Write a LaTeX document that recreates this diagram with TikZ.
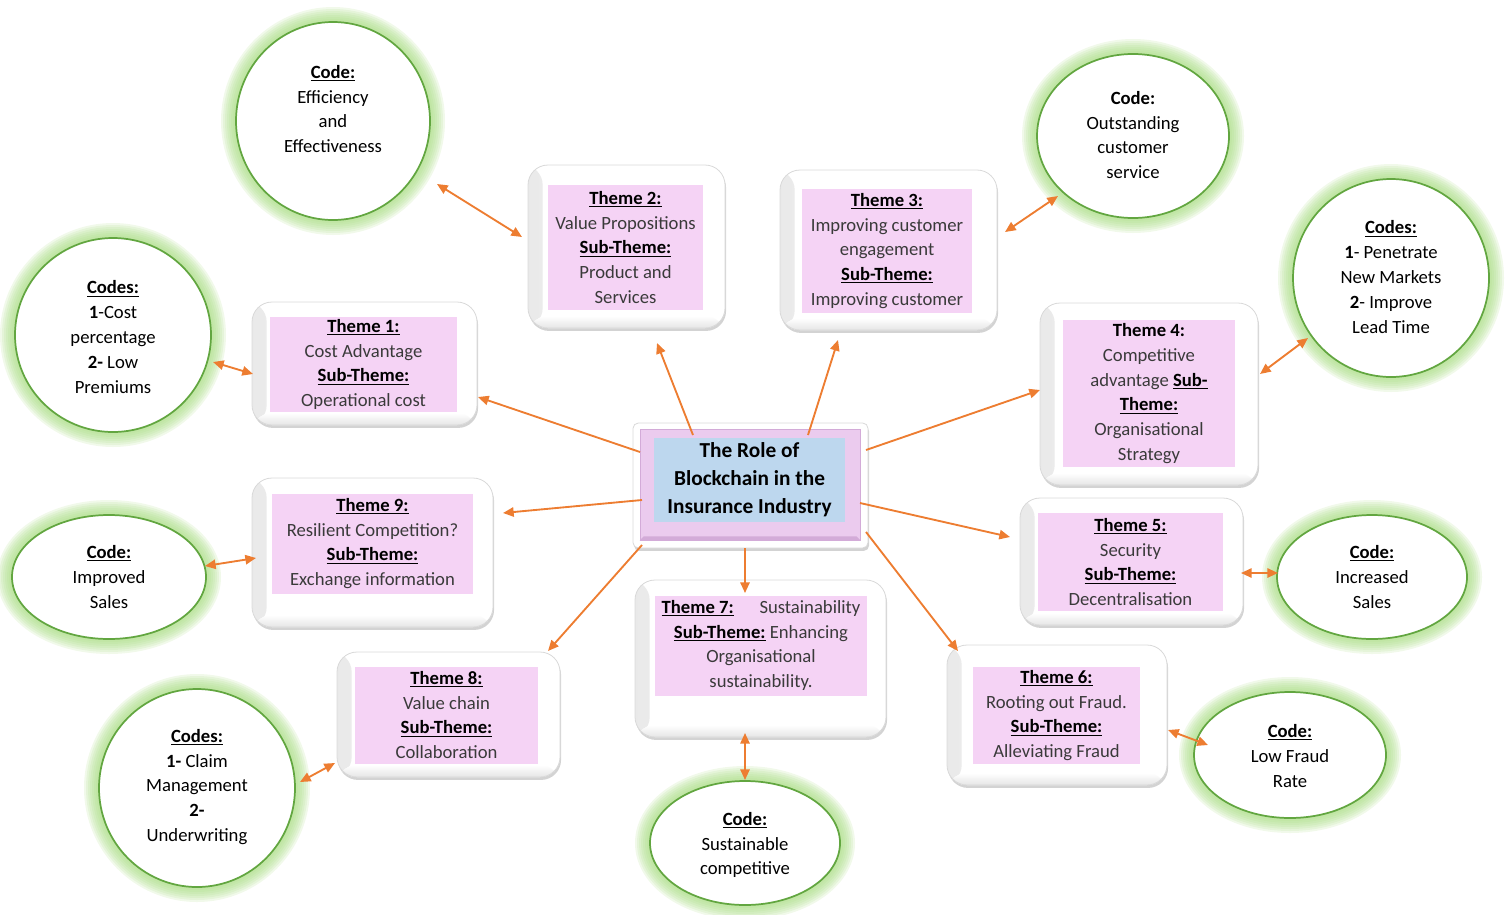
\documentclass[tikz,border=0pt]{standalone}
\usepackage{fontspec}
\setmainfont{Carlito}
\usetikzlibrary{shadows,arrows.meta,calc,shapes.geometric}
\definecolor{arr}{HTML}{ED7D31}
\definecolor{pinkf}{HTML}{F5D3F5}
\definecolor{ctrpink}{HTML}{EBCBEE}
\definecolor{ctrpinkdk}{HTML}{D3ABD8}
\definecolor{ctrblue}{HTML}{BDD7EE}
\definecolor{gline}{HTML}{62A640}
\definecolor{gglow}{HTML}{A6DB7F}
\definecolor{bodytxt}{HTML}{3A3A3A}
\tikzset{
 sz/.style 2 args={minimum width={#1*0.75pt},minimum height={#2*0.75pt}},
 plainbox/.style={draw=gray!30, line width=0.6pt, fill=white,
   drop shadow={shadow xshift=0.8pt, shadow yshift=-2.2pt, opacity=0.35}, inner sep=0pt},
 outerbox/.style={plainbox, rounded corners=15pt,
   path picture={
     \fill[left color=gray!17, right color=white] (path picture bounding box.south west) rectangle ([xshift=11pt]path picture bounding box.north west);
     \fill[top color=white, bottom color=gray!20] ([yshift=9pt]path picture bounding box.south west) rectangle (path picture bounding box.south east);
   }},
 pinkbox/.style={fill=pinkf, inner sep=0pt, align=center, font=\fontsize{14}{18.6}\selectfont, text=bodytxt},
 codeellipse/.style={ellipse, draw=gline, line width=1.3pt, fill=white, inner sep=0pt},
 codetxt/.style={align=center, font=\fontsize{14}{18.6}\selectfont, text=black, inner sep=0pt},
 arrowone/.style={draw=arr, line width=1.4pt, -{Triangle[length=8pt,width=7pt]}},
 arrowtwo/.style={draw=arr, line width=1.4pt, {Triangle[length=8pt,width=7pt]}-{Triangle[length=8pt,width=7pt]}},
}
\newcommand\hd[1]{\textcolor{black}{\textbf{\underline{#1}}}}
\newcommand\codeell[5]{%
 \coordinate (#1c) at (#2,#3);
 \foreach \lw in {30,26,22,18,14,10,6}{\draw[gglow, opacity=0.16, line width=\lw*0.75pt] (#1c) ellipse [x radius=#4*0.75pt, y radius=#5*0.75pt];}
 \node[codeellipse, minimum width=#4*1.5pt, minimum height=#5*1.5pt] (#1) at (#1c) {};
}
\begin{document}
\begin{tikzpicture}[x=0.75pt,y=-0.75pt]
\useasboundingbox (0,0) rectangle (1505,914);

% code ellipses
\codeell{e1}{333}{121}{97}{99}
\codeell{e2}{113}{335}{98}{97}
\codeell{e3}{109}{577}{97}{62}
\codeell{e4}{197}{788}{98}{99}
\codeell{e5}{745}{843}{95}{62}
\codeell{e6}{1290}{755}{96}{63}
\codeell{e7}{1372}{577}{95}{62}
\codeell{e8}{1391}{278}{98}{99}
\codeell{e9}{1133}{136}{96}{82}

\node[codetxt] (e1t) at (333,109) {\hd{Code:}\\Efficiency\\and\\Effectiveness};
\node[codetxt] (e2t) at (113,337) {\hd{Codes:}\\\textbf{1}-Cost\\percentage\\\textbf{2-} Low\\Premiums};
\node[codetxt] (e3t) at (109,577) {\hd{Code:}\\Improved\\Sales};
\node[codetxt] (e4t) at (197,787) {\hd{Codes:}\\\textbf{1-} Claim\\Management\\\textbf{2-}\\Underwriting};
\node[codetxt] (e5t) at (745,845) {\hd{Code:}\\Sustainable\\competitive};
\node[codetxt] (e6t) at (1290,756) {\hd{Code:}\\Low Fraud\\Rate};
\node[codetxt] (e7t) at (1372,577) {\hd{Code:}\\Increased\\Sales};
\node[codetxt] (e8t) at (1391,277) {\hd{Codes:}\\\textbf{1}- Penetrate\\New Markets\\\textbf{2}- Improve\\Lead Time};
\node[codetxt] (e9t) at (1133,135) {\textbf{Code:}\\Outstanding\\customer\\service};

% theme boxes
\node[outerbox, sz={225}{123}] (t1) at (364.5,363.5) {};
\node[pinkbox, sz={187}{95}] (t1p) at (363.5,364.5) {\hd{Theme 1:}\\Cost Advantage\\\hd{Sub-Theme:}\\Operational cost};

\node[outerbox, sz={197}{163}] (t2) at (626.5,246.5) {};
\node[pinkbox, sz={155}{125}] (t2p) at (625.5,247.5) {\hd{Theme 2:}\\Value Propositions\\\hd{Sub-Theme:}\\Product and\\Services};

\node[outerbox, sz={217}{160}] (t3) at (888.5,250) {};
\node[pinkbox, sz={170}{124}] (t3p) at (887,251) {\hd{Theme 3:}\\Improving customer\\engagement\\\hd{Sub-Theme:}\\Improving customer};

\node[outerbox, sz={218}{182}] (t4) at (1149,394) {};
\node[pinkbox, sz={172}{147}] (t4p) at (1149,393.5) {\textcolor{black}{\textbf{Theme 4:}}\\Competitive\\advantage \hd{Sub-}\\\hd{Theme:}\\Organisational\\Strategy};

\node[outerbox, sz={223}{127}] (t5) at (1131.5,561.5) {};
\node[pinkbox, sz={185}{98}] (t5p) at (1130.5,562) {\hd{Theme 5:}\\Security\\\hd{Sub-Theme:}\\Decentralisation};

\node[outerbox, sz={220}{140}] (t6) at (1057,715) {};
\node[pinkbox, sz={167}{97}] (t6p) at (1056.5,715.5) {\hd{Theme 6:}\\Rooting out Fraud.\\\hd{Sub-Theme:}\\Alleviating Fraud};

\node[outerbox, sz={251}{157}] (t7) at (760.5,658.5) {};
\node[pinkbox, sz={212}{100}] (t7p) at (761,645.5) {\makebox[149pt]{\hd{Theme 7:}\hfill Sustainability}\\\hd{Sub-Theme:} Enhancing\\Organisational\\sustainability.};

\node[outerbox, sz={223}{125}] (t8) at (448.5,714.5) {};
\node[pinkbox, sz={183}{97}] (t8p) at (446.5,715) {\hd{Theme 8:}\\Value chain\\\hd{Sub-Theme:}\\Collaboration};

\node[outerbox, sz={241}{149}] (t9) at (372.5,552.5) {};
\node[pinkbox, sz={201}{100}] (t9p) at (372.5,543.5) {\hd{Theme 9:}\\Resilient Competition?\\\hd{Sub-Theme:}\\Exchange information};

% center
\node[plainbox, rounded corners=4pt, sz={235}{125}] (ctr) at (750.5,485.5) {};
\node[fill=ctrpink, draw=ctrpinkdk, line width=0.5pt, inner sep=0pt, sz={220}{111}] (ctrp) at (750,484.5) {};
\fill[ctrpinkdk] (ctrp.south west) -- (ctrp.south east) -- ([shift={(-4,-4)}]ctrp.south east) -- ([shift={(4,-4)}]ctrp.south west) -- cycle;
\node[fill=ctrblue, inner sep=0pt, sz={191}{84}, align=center, font=\fontsize{16}{21}\selectfont\bfseries] (ctrb) at (749.5,480) {The Role of\\Blockchain in the\\Insurance Industry};

% arrows from center to themes
\draw[arrowone] ([shift={(-110.5,-33.5)}]ctr.center) -- ([shift={(113.5,33.5)}]t1.center);
\draw[arrowone] ([shift={(-57.5,-50.5)}]ctr.center) -- ([shift={(30.5,96.5)}]t2.center);
\draw[arrowone] ([shift={(57.5,-50.5)}]ctr.center) -- ([shift={(-50.5,90)}]t3.center);
\draw[arrowone] ([shift={(115.5,-35.5)}]ctr.center) -- ([shift={(-109,-4)}]t4.center);
\draw[arrowone] ([shift={(109.5,17.5)}]ctr.center) -- ([shift={(-121.5,-24.5)}]t5.center);
\draw[arrowone] ([shift={(115.5,46.5)}]ctr.center) -- ([shift={(-99,-64)}]t6.center);
\draw[arrowone] ([shift={(-5.5,62.5)}]ctr.center) -- ([shift={(-15.5,-65.5)}]t7.center);
\draw[arrowone] ([shift={(-108.5,59.5)}]ctr.center) -- ([shift={(99.5,-63.5)}]t8.center);
\draw[arrowone] ([shift={(-108.5,14.5)}]ctr.center) -- ([shift={(130.5,-39.5)}]t9.center);

% double arrows themes <-> codes
\draw[arrowtwo] ([shift={(-104.5,-9.5)}]t2.center) -- ([shift={(104,63)}]e1.center);
\draw[arrowtwo] ([shift={(116.5,-18)}]t3.center) -- ([shift={(-75,60)}]e9.center);
\draw[arrowtwo] ([shift={(-111.5,10.5)}]t1.center) -- ([shift={(100,27)}]e2.center);
\draw[arrowtwo] ([shift={(111,-20)}]t4.center) -- ([shift={(-83,60)}]e8.center);
\draw[arrowtwo] ([shift={(-116.5,5.5)}]t9.center) -- ([shift={(96,-11)}]e3.center);
\draw[arrowtwo] ([shift={(109.5,11.5)}]t5.center) -- ([shift={(-94,-4)}]e7.center);
\draw[arrowtwo] ([shift={(-113.5,48.5)}]t8.center) -- ([shift={(103,-6)}]e4.center);
\draw[arrowtwo] ([shift={(-15.5,74.5)}]t7.center) -- ([shift={(0,-63)}]e5.center);
\draw[arrowtwo] ([shift={(111,15)}]t6.center) -- ([shift={(-82,-10)}]e6.center);
\end{tikzpicture}
\end{document}
